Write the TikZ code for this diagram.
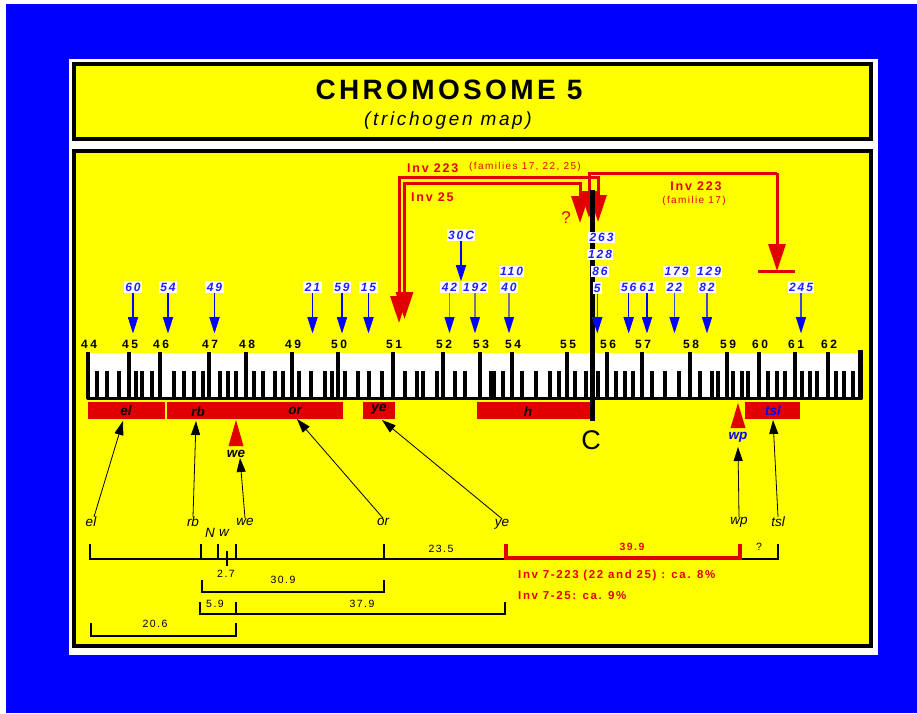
\documentclass[tikz,border=0pt]{standalone}
\usepackage{fontspec}
\setmainfont{Liberation Sans}
\newfontfamily\lsRuler[LetterSpace=22]{Liberation Sans}
\newfontfamily\lsBlue[LetterSpace=16]{Liberation Sans}
\newfontfamily\lsMid[LetterSpace=14]{Liberation Sans}
\newfontfamily\lsTitle[LetterSpace=12]{Liberation Sans}
\usetikzlibrary{arrows.meta}
\definecolor{bgblue}{RGB}{0,0,255}
\definecolor{ylw}{RGB}{255,255,0}
\definecolor{barred}{RGB}{224,0,0}
\definecolor{txtred}{RGB}{228,0,0}
\definecolor{lblblue}{RGB}{30,30,255}
\definecolor{shaftgray}{RGB}{120,120,140}
\definecolor{shaftdark}{RGB}{70,70,210}
\tikzset{
  frame/.style={draw=black, line width=4pt, fill=ylw},
  tk/.style={line width=3.4pt},
  rnum/.style={font=\lsRuler\fontsize{12}{13}\selectfont\bfseries, inner sep=0pt},
  bl/.style={fill=white, text=lblblue, font=\lsBlue\fontsize{12}{13}\selectfont\bfseries\itshape, inner sep=1.4pt},
  blarr/.style={draw=blue, line width=1.5pt, -{Triangle[length=16pt,width=10pt]}},
  invarr/.style={draw=barred, line width=3pt, {Triangle[length=27pt,width=17pt]}-{Triangle[length=27pt,width=17pt]}},
  lblarr/.style={draw=black, line width=0.8pt, -{Triangle[length=14pt,width=9pt]}},
  redbar/.style={fill=barred},
  barlbl/.style={font=\fontsize{13.5}{14}\selectfont\bfseries\itshape, inner sep=0pt},
  low/.style={font=\fontsize{13.5}{14}\selectfont\itshape, inner sep=0pt},
  dist/.style={font=\lsMid\fontsize{10.5}{12}\selectfont, inner sep=0pt},
  dl/.style={line width=2pt},
  invtxt/.style={text=txtred, font=\lsMid\fontsize{12.5}{14}\selectfont\bfseries, inner sep=0pt},
  invsmall/.style={text=txtred, font=\lsMid\fontsize{10}{12}\selectfont, inner sep=0pt},
}
\begin{document}
\begin{tikzpicture}[x=1pt,y=-1pt]
\useasboundingbox (0,0) rectangle (917,713);
\fill[white] (0,0) rectangle (917,713);
\fill[bgblue] (6,4) rectangle (917,713);
\fill[white] (69,59) rectangle (878,655);
% title box
\draw[frame] (74,64) rectangle (871,139);
\node[font=\lsTitle\fontsize{28}{30}\selectfont\bfseries] (title) at (449,90) {CHROMOSOME 5};
\node[font=\lsMid\fontsize{19}{21}\selectfont\itshape] (sub) at (448,121) {(trichogen map)};
% main box
\draw[frame] (74,151) rectangle (871,646);

% ruler
\fill[white] (88,353) rectangle (862,398);
\foreach \x in {97,107,119,136,142,152,174,184,194,203,220,228,236,254,263,275,283,299,311,325,332,345,358,369,382,405,417,423,437,455,465,491,494,503,522,536,550,559,575,586,598,616,625,633,652,665,679,700,712,718,733,742,748,768,777,785,802,810,817,836,844,853}
  \draw[tk] (\x,398) -- (\x,371);
\foreach \x/\n in {88/44,129/45,160/46,209/47,246/48,292/49,338/50,393/51,443/52,480/53,512/54,567/55,607/56,642/57,690/58,727/59,759/60,795/61,828/62}{
  \draw[tk] (\x,398) -- (\x,352);
  \node[rnum] (r\n) at (\x+1,344) {\n};
}
\draw[tk] (860,398) -- (860,350);
\draw[line width=3.5pt, line join=round] (87.5,352) -- (87.5,398.5) -- (861,398.5) -- (861,350);

% red bars
\fill[redbar] (88,402) rectangle (165,419);
\fill[redbar] (167,402) rectangle (343,419);
\fill[redbar] (363,402) rectangle (395,419);
\fill[redbar] (477,402) rectangle (590,419);
\fill[redbar] (745,402) rectangle (800,419);
\node[barlbl] (bel) at (126,411) {el};
\node[barlbl] (brb) at (198,412) {rb};
\node[barlbl] (bor) at (295,411) {or};
\node[barlbl] (bye) at (379,409) {ye};
\node[barlbl] (bh) at (528,412) {h};
\node[barlbl, text=blue] (btsl) at (773,411) {tsl};
% markers
\fill[barred] (236,420) -- (243.5,446) -- (228.5,446) -- cycle;
\node[barlbl] (mwe) at (236,454) {we};
\fill[barred] (738,403) -- (745.5,428) -- (730.5,428) -- cycle;
\node[barlbl, text=blue] (mwp) at (738,437) {wp};

% inversions
\draw[invarr] (399,323) -- (399,177) -- (598,177) -- (598,222);
\draw[invarr] (404.5,319) -- (404.5,183) -- (580,183) -- (580,223);
\draw[draw=barred, line width=3pt, -{Triangle[length=27pt,width=17pt]}] (777,173) -- (777,271);
\draw[draw=barred, line width=3pt, -{Triangle[length=27pt,width=17pt]}] (777,173) -- (589,173) -- (589,218);
\draw[draw=barred, line width=3pt] (758,271) -- (795,271);
\node[invtxt, anchor=west] (i223) at (407,168) {Inv 223};
\node[invsmall, anchor=west] (ifam) at (469,167) {(families 17, 22, 25)};
\node[invtxt, anchor=west] (i25) at (411,197) {Inv 25};
\node[invtxt] (i223b) at (696,186) {Inv 223};
\node[invsmall] (ifamb) at (694,201) {(familie 17)};
\node[text=txtred, font=\fontsize{17}{18}\selectfont, inner sep=0pt] (qm) at (566,218) {?};

% centromere
\draw[line width=5pt] (592,190) -- (592,421);
\node[font=\fontsize{27}{28}\selectfont, inner sep=0pt] (cen) at (591,440) {C};

% blue labels and arrows
\coordinate (tipline) at (0,333);
\foreach \nm/\x/\y/\t/\c in {a/133/287/60/blue, b/168/287/54/blue, c/214.5/287/49/blue, d/312.5/287/21/blue, e/342/287/59/blue, f/368.5/287/15/blue, g/449.5/287/42/shaftgray, h/475/287/192/shaftgray, i/509/287/40/shaftgray, j/597.3/288/5/shaftdark, k/628.7/287/56/blue, l/647/287/61/blue, m/674.5/287/22/shaftdark, n/707/287/82/shaftdark, o/801/287/245/shaftdark}{
  \node[bl] (bl\nm) at (\x,\y) {\t};
  \draw[blarr, draw=\c] (bl\nm.south) -- (bl\nm.south |- tipline);
  \fill[blue] ([xshift=-5pt]bl\nm.south |- 0,317) -- ([xshift=5pt]bl\nm.south |- 0,317) -- (bl\nm.south |- tipline) -- cycle;
}
\node[bl] (bl110) at (511.5,271.5) {110};
\node[bl] (bl86) at (600,271.5) {86};
\node[bl] (bl128) at (600,254.5) {128};
\node[bl] (bl263) at (601.5,237.5) {263};
\node[bl] (bl179) at (676.5,271.5) {179};
\node[bl] (bl129) at (709,271.5) {129};
\node[bl] (bl30C) at (461,235) {30C};
\draw[blarr] (bl30C.south) -- (bl30C.south |- blg.north);

% lower labels
\node[low] (lel) at (91,522) {el};
\node[low] (lrb) at (193,522) {rb};
\node[low] (lwe) at (245,522) {we};
\node[low] (lor) at (383,522) {or};
\node[low] (lye) at (502,524) {ye};
\node[low] (lwp) at (739,522) {wp};
\node[low] (ltsl) at (778,522) {tsl};
\node[low] (lN) at (210,533) {N};
\node[low] (lw) at (224,533) {w};
\coordinate (tel) at (123,421);
\coordinate (trb) at (196,421);
\coordinate (twe) at (240,458);
\coordinate (tor) at (297,419);
\coordinate (tye) at (382,420);
\coordinate (twp) at (738,447);
\coordinate (ttsl) at (773,420);
\draw[lblarr] ([xshift=3pt]lel.north) -- (tel);
\draw[lblarr] (lrb.north) -- (trb);
\draw[lblarr] (lwe.north) -- (twe);
\draw[lblarr] (lor.north) -- (tor);
\draw[lblarr] (lye.north) -- (tye);
\draw[lblarr] (lwp.north) -- (twp);
\draw[lblarr] (ltsl.north) -- (ttsl);

% distance lines
\draw[dl] (90,544) -- (90,559) -- (505,559);
\foreach \x in {201,218,236,384} \draw[dl] (\x,544) -- (\x,559);
\draw[dl] (226.5,551) -- (226.5,566);
\draw[dl] (740,559) -- (778,559) -- (778,544);
\draw[line width=4pt, barred] (505.5,544) -- (505.5,557.5) -- (740,557.5) -- (740,544);
\draw[line width=2.5pt] (202,580) -- (202,592) -- (384,592) -- (384,580);
\draw[line width=2.5pt] (200,602) -- (200,614) -- (505,614) -- (505,602);
\draw[line width=2.5pt] (236,602) -- (236,614);
\draw[line width=2.5pt] (91,623) -- (91,636) -- (236,636) -- (236,623);
\node[dist] (d235) at (441,549) {23.5};
\node[dist, text=txtred, font=\lsMid\fontsize{10.5}{12}\selectfont\bfseries] (d399) at (632,547) {39.9};
\node[dist] (dq) at (759,547) {?};
\node[dist] (d27) at (226,574) {2.7};
\node[dist] (d309) at (283,580) {30.9};
\node[dist] (d59) at (215,604) {5.9};
\node[dist] (d379) at (362,604) {37.9};
\node[dist] (d206) at (155,624) {20.6};
\node[invtxt, anchor=west, font=\lsMid\fontsize{11.5}{13}\selectfont\bfseries] (t1) at (518,576) {Inv 7-223 (22 and 25) : ca. 8\%};
\node[invtxt, anchor=west, font=\lsMid\fontsize{11.5}{13}\selectfont\bfseries] (t2) at (518,596) {Inv 7-25: ca. 9\%};
\end{tikzpicture}
\end{document}
